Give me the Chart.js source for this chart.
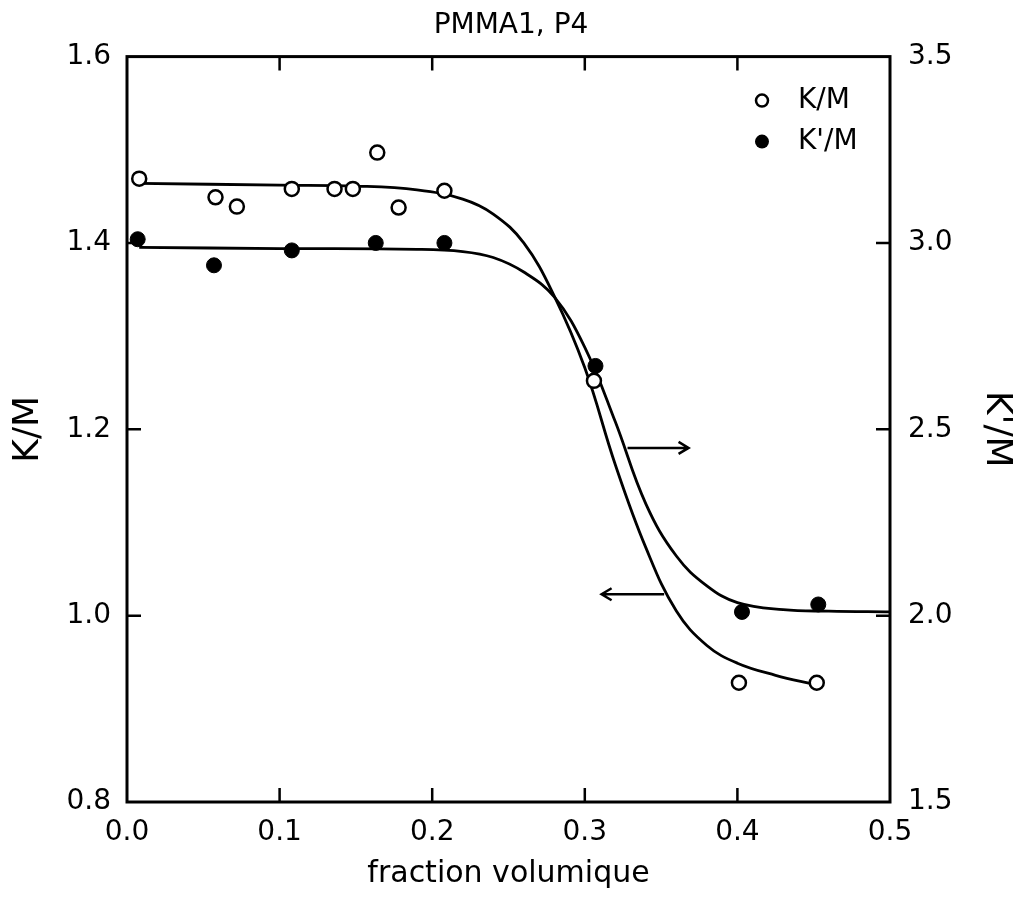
<!DOCTYPE html>
<html>
<head>
<meta charset="utf-8">
<script src="https://cdn.jsdelivr.net/npm/chart.js@4"></script>
<style>
  html, body { margin: 0; padding: 0; background: #fff; }
</style>
</head>
<body>
<canvas id="chart" width="1022" height="906"></canvas>
<script>
const fracOpen = [0.008, 0.058, 0.072, 0.108, 0.136, 0.148, 0.164, 0.178, 0.208, 0.306, 0.401, 0.452];
const kOverM = [1.469, 1.449, 1.439, 1.458, 1.458, 1.458, 1.497, 1.438, 1.456, 1.252, 0.928, 0.928];
const fracFilled = [0.007, 0.057, 0.108, 0.163, 0.208, 0.307, 0.403, 0.453];
const kPrimeOverM = [3.01, 2.94, 2.98, 3.00, 3.00, 2.67, 2.01, 2.03];

// fitted curves
const fitFracK = [0.008, 0.1, 0.15, 0.19, 0.22, 0.24, 0.26, 0.28, 0.30, 0.32, 0.34, 0.36, 0.38, 0.40, 0.425, 0.451];
const fitK = [1.464, 1.462, 1.461, 1.457, 1.447, 1.431, 1.400, 1.343, 1.266, 1.162, 1.073, 1.005, 0.968, 0.949, 0.936, 0.926];
const fitFracKp = [0.008, 0.1, 0.19, 0.22, 0.24, 0.26, 0.28, 0.30, 0.32, 0.34, 0.36, 0.38, 0.40, 0.43, 0.46, 0.5];
const fitKp = [2.988, 2.985, 2.983, 2.977, 2.961, 2.922, 2.855, 2.720, 2.520, 2.300, 2.160, 2.080, 2.035, 2.016, 2.012, 2.010];

// tick labels
const xTickLabels = ['0.0', '0.1', '0.2', '0.3', '0.4', '0.5'];
const yTickLabels = ['0.8', '1.0', '1.2', '1.4', '1.6'];
const y2TickLabels = ['1.5', '2.0', '2.5', '3.0', '3.5'];

// arrows pointing to the axis each curve belongs to (x from, x to, level on K/M axis)
const arrowFrom = [0.328, 0.352];
const arrowTo = [0.368, 0.311];
const arrowLevel = [1.18, 1.023];

const FONT = 'DejaVu Sans';
const toXY = (xs, ys) => xs.map((x, i) => ({ x: x, y: ys[i] }));

const framePlugin = {
    id: 'frame',
    afterDatasetsDraw(chart) {
        const ctx = chart.ctx;
        const a = chart.chartArea;
        const { x, y, y2 } = chart.scales;
        const tick = 14;
        ctx.save();
        ctx.strokeStyle = '#000';
        ctx.lineWidth = 3;
        ctx.strokeRect(a.left, a.top, a.right - a.left, a.bottom - a.top);

        // inward tick marks
        ctx.lineWidth = 2.5;
        ctx.beginPath();
        x.ticks.slice(1, -1).forEach(t => {
            const px = x.getPixelForValue(t.value);
            ctx.moveTo(px, a.bottom); ctx.lineTo(px, a.bottom - tick);
            ctx.moveTo(px, a.top); ctx.lineTo(px, a.top + tick);
        });
        y.ticks.slice(1, -1).forEach(t => {
            const py = y.getPixelForValue(t.value);
            ctx.moveTo(a.left, py); ctx.lineTo(a.left + tick, py);
        });
        y2.ticks.slice(1, -1).forEach(t => {
            const py = y2.getPixelForValue(t.value);
            ctx.moveTo(a.right, py); ctx.lineTo(a.right - tick, py);
        });
        ctx.stroke();

        // arrows
        ctx.lineWidth = 2.5;
        arrowFrom.forEach((x0, i) => {
            const p0 = x.getPixelForValue(x0);
            const p1 = x.getPixelForValue(arrowTo[i]);
            const py = y.getPixelForValue(arrowLevel[i]);
            const dir = p1 > p0 ? 1 : -1;
            ctx.beginPath();
            ctx.moveTo(p0, py); ctx.lineTo(p1, py);
            ctx.moveTo(p1 - dir * 10, py - 6); ctx.lineTo(p1, py); ctx.lineTo(p1 - dir * 10, py + 6);
            ctx.stroke();
        });

        // legend
        const lx = a.right - 128;
        let ly = a.top + 44;
        ctx.font = '28px "' + FONT + '"';
        ctx.textBaseline = 'middle';
        ctx.fillStyle = '#000';
        [0, 1].forEach(i => {
            const ds = chart.data.datasets[i];
            ctx.beginPath();
            if (ds.backgroundColor === '#000') {
                ctx.arc(lx, ly, 7, 0, Math.PI * 2);
                ctx.fill();
            } else {
                ctx.arc(lx, ly, 6, 0, Math.PI * 2);
                ctx.lineWidth = 2.5;
                ctx.stroke();
            }
            ctx.fillText(ds.label, lx + 36, ly);
            ly += 41;
        });
        ctx.restore();
    }
};

const ctx = document.getElementById('chart').getContext('2d');
new Chart(ctx, {
    type: 'scatter',
    data: {
        datasets: [
            {
                label: 'K/M',
                data: toXY(fracOpen, kOverM),
                yAxisID: 'y',
                pointRadius: 7,
                pointBorderWidth: 2.5,
                borderColor: '#000',
                backgroundColor: '#fff',
                clip: false,
            },
            {
                label: "K'/M",
                data: toXY(fracFilled, kPrimeOverM),
                yAxisID: 'y2',
                pointRadius: 7.5,
                pointBorderWidth: 1,
                borderColor: '#000',
                backgroundColor: '#000',
                clip: false,
            },
            {
                label: 'fit K/M',
                data: toXY(fitFracK, fitK),
                yAxisID: 'y',
                showLine: true,
                pointRadius: 0,
                borderColor: '#000',
                borderWidth: 2.8,
                tension: 0.4,
            },
            {
                label: "fit K'/M",
                data: toXY(fitFracKp, fitKp),
                yAxisID: 'y2',
                showLine: true,
                pointRadius: 0,
                borderColor: '#000',
                borderWidth: 2.8,
                tension: 0.4,
            },
        ],
    },
    options: {
        responsive: false,
        animation: false,
        layout: { padding: 0 },
        plugins: {
            legend: { display: false },
            tooltip: { enabled: false },
            title: {
                display: true,
                text: 'PMMA1, P4',
                color: '#000',
                font: { family: FONT, size: 28, weight: 'normal' },
                padding: { top: 9, bottom: 14 },
            },
        },
        scales: {
            x: {
                type: 'linear',
                position: 'bottom',
                min: 0,
                max: 0.5,
                grid: { display: false, drawTicks: false },
                border: { display: false },
                ticks: {
                    stepSize: 0.1,
                    padding: 14,
                    color: '#000',
                    font: { family: FONT, size: 28 },
                    callback: (v, i) => xTickLabels[i],
                },
                title: {
                    display: true,
                    text: 'fraction volumique',
                    color: '#000',
                    font: { family: FONT, size: 30 },
                    padding: { top: 0, bottom: 14 },
                },
                afterFit(s) { s.height = 104; },
            },
            y: {
                type: 'linear',
                position: 'left',
                min: 0.8,
                max: 1.6,
                grid: { display: false, drawTicks: false },
                border: { display: false },
                ticks: {
                    stepSize: 0.2,
                    padding: 16,
                    color: '#000',
                    font: { family: FONT, size: 28 },
                    callback: (v, i) => yTickLabels[i],
                },
                title: {
                    display: true,
                    text: 'K/M',
                    color: '#000',
                    font: { family: FONT, size: 36 },
                    padding: { top: 7, bottom: 0 },
                },
                afterFit(s) { s.width = 127; },
            },
            y2: {
                type: 'linear',
                position: 'right',
                min: 1.5,
                max: 3.5,
                grid: { display: false, drawTicks: false },
                border: { display: false },
                ticks: {
                    stepSize: 0.5,
                    padding: 18,
                    color: '#000',
                    font: { family: FONT, size: 28 },
                    callback: (v, i) => y2TickLabels[i],
                },
                title: {
                    display: true,
                    text: "K'/M",
                    color: '#000',
                    font: { family: FONT, size: 36 },
                    padding: { top: 4, bottom: 0 },
                },
                afterFit(s) { s.width = 132; },
            },
        },
    },
    plugins: [framePlugin],
});
</script>
</body>
</html>
